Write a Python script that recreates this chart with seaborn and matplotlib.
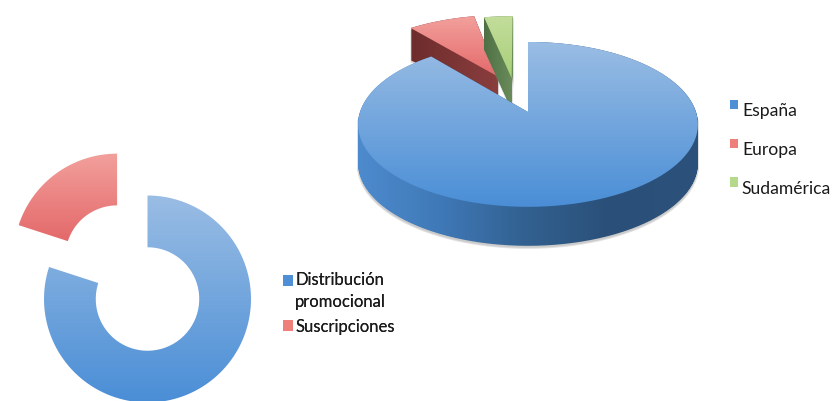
import itertools

import matplotlib.pyplot as plt
import numpy as np
import seaborn as sns

from matplotlib.patches import Patch, PathPatch
from matplotlib.path import Path

# values (percent of each pie)
pie_labels = ["España", "Europa", "Sudamérica"]
pie_values = [88.9, 7.8, 3.3]
pie_explode = [0.0, 0.52, 0.45]

donut_labels = ["Distribución\npromocional", "Suscripciones"]
donut_values = [80, 20]
donut_explode = [0.0, 0.5]

WIDTH, HEIGHT = 834, 402

BLUE_TOP = sns.blend_palette(["#4a8ed6", "#9abde4"], as_cmap=True)
BLUE_WALL = sns.blend_palette(
    ["#4d8bce", "#3f78b6", "#32608f", "#2a4f78", "#2c527c"],
    as_cmap=True,
)
RED_TOP = sns.blend_palette(["#e4696a", "#f2a09c"], as_cmap=True)
RED_WALL = sns.blend_palette(["#6e2c2c", "#8a3e3e"], as_cmap=True)
GREEN_TOP = sns.blend_palette(["#a9cf78", "#c3de9c"], as_cmap=True)
GREEN_WALL = sns.blend_palette(["#4f7044", "#6b8c5c"], as_cmap=True)

draw_order = itertools.count(1)


def layout_wedges(values, explode, width=None):
    """
    Let matplotlib work out the slice angles and offsets on a scratch axis.
    """

    figure, axis = plt.subplots()
    wedgeprops = {"width": width} if width else None
    wedges, _ = axis.pie(
        values,
        explode=explode,
        startangle=90,
        counterclock=False,
        wedgeprops=wedgeprops,
    )
    plt.close(figure)
    return wedges


def wedge_outline(wedge):
    """
    Outline of a slice in pie units.
    """

    angles = np.radians(np.linspace(wedge.theta1, wedge.theta2, 120))
    center = np.array(wedge.center)
    outer = np.column_stack([np.cos(angles), np.sin(angles)]) * wedge.r
    if wedge.width:
        inner = outer[::-1] * (wedge.r - wedge.width) / wedge.r
        return center + np.vstack([outer, inner])
    return np.vstack([center, center + outer])


def tilt(points, cx, cy, rx, ry, k):
    """
    Project pie units on the screen, the far side comes out smaller.
    """

    scale = 1 + k * points[:, 1]
    return np.column_stack([
        cx + rx * points[:, 0] / scale,
        cy - ry * points[:, 1] / scale,
    ])


def fill_gradient(axis, path, cmap, horizontal=False):
    """
    Paint a gradient clipped to a path, spanning the path's own box.
    """

    (x0, y0), (x1, y1) = path.get_extents().get_points()
    ramp = np.linspace(0, 1, 256)
    ramp = ramp.reshape(1, -1) if horizontal else ramp.reshape(-1, 1)
    image = axis.imshow(
        ramp,
        cmap=cmap,
        extent=(x0, x1, y0, y1),
        origin="lower" if horizontal else "upper",
        aspect="auto",
        interpolation="bilinear",
        zorder=next(draw_order),
    )
    patch = PathPatch(path, facecolor="none", edgecolor="none")
    axis.add_patch(patch)
    image.set_clip_path(patch)


def stacked_path(outline, first, last):
    layers = [
        Path(outline + [0, step], closed=False)
        for step in range(int(first), int(last) + 1)
    ]
    return Path.make_compound_path(*layers)


def draw_extruded(axis, outline, depth, top_cmap, wall_cmap):
    """
    Draw a slice as a stack of shifted outlines with the top face over it.
    """

    axis.add_patch(PathPatch(
        stacked_path(outline, 3, depth + 2),
        facecolor="#8a8a8a",
        edgecolor="#8a8a8a",
        linewidth=1.5,
        alpha=0.25,
        zorder=next(draw_order),
    ))
    fill_gradient(axis, stacked_path(outline, 0, depth), wall_cmap, horizontal=True)
    fill_gradient(axis, Path(outline), top_cmap)


def add_legend(axis, labels, colors, anchor, spacing, fontsize, size, pad, lifts):
    handles = [
        Patch(facecolor=color, edgecolor="none", label=label)
        for label, color in zip(labels, colors)
    ]
    legend = axis.legend(
        handles=handles,
        loc="upper left",
        bbox_to_anchor=anchor,
        bbox_transform=axis.transAxes,
        frameon=False,
        fontsize=fontsize,
        handlelength=size,
        handleheight=size,
        handletextpad=pad,
        labelspacing=spacing,
        borderpad=0,
        borderaxespad=0,
        labelcolor="#1a1a1a",
    )
    for text in legend.get_texts():
        text.set_linespacing(1.45)
    # the squares sit a little above the middle of their labels
    for handle, lift in zip(legend.legend_handles, lifts):
        handle.set_y(handle.get_y() + lift)
    legend.set_zorder(next(draw_order))
    axis.add_artist(legend)


sns.set_theme(style="white")
plt.rcParams["font.family"] = ["Lato", "DejaVu Sans"]

figure = plt.figure(figsize=(WIDTH / 100, HEIGHT / 100), dpi=100)
axis = figure.add_axes([0, 0, 1, 1])

# 3D pie, back slices first so that the big slice covers their walls
pie_wedges = layout_wedges(pie_values, pie_explode)
styles = [
    (1, 32, 6, RED_TOP, RED_WALL),
    (2, 32, -9, GREEN_TOP, GREEN_WALL),
    (0, 39, 0, BLUE_TOP, BLUE_WALL),
]
for index, depth, nudge, top_cmap, wall_cmap in styles:
    outline = tilt(wedge_outline(pie_wedges[index]), 528, 113, 168, 80.6, 0.15)
    draw_extruded(axis, outline + [nudge, 0], depth, top_cmap, wall_cmap)

# exploded doughnut
donut_wedges = layout_wedges(donut_values, donut_explode, width=0.5)
for wedge, cmap in zip(donut_wedges, [BLUE_TOP, RED_TOP]):
    outline = wedge_outline(wedge) * [103.5, -103.5] + [147.5, 300]
    fill_gradient(axis, Path(outline), cmap)

add_legend(
    axis,
    pie_labels,
    ["#4f8fd6", "#ee7f7a", "#b5d98a"],
    (730 / WIDTH, 1 - 103 / HEIGHT),
    1.3,
    12.6,
    0.45,
    0.23,
    [3, 3, 3],
)
add_legend(
    axis,
    donut_labels,
    ["#4f8fd6", "#ee7f7a"],
    (283 / WIDTH, 1 - 272 / HEIGHT),
    0.55,
    12,
    0.62,
    0.12,
    [7, 0],
)

axis.set_xlim(0, WIDTH)
axis.set_ylim(HEIGHT, 0)
axis.set_axis_off()

plt.savefig("out.png", dpi=100)
plt.close()
